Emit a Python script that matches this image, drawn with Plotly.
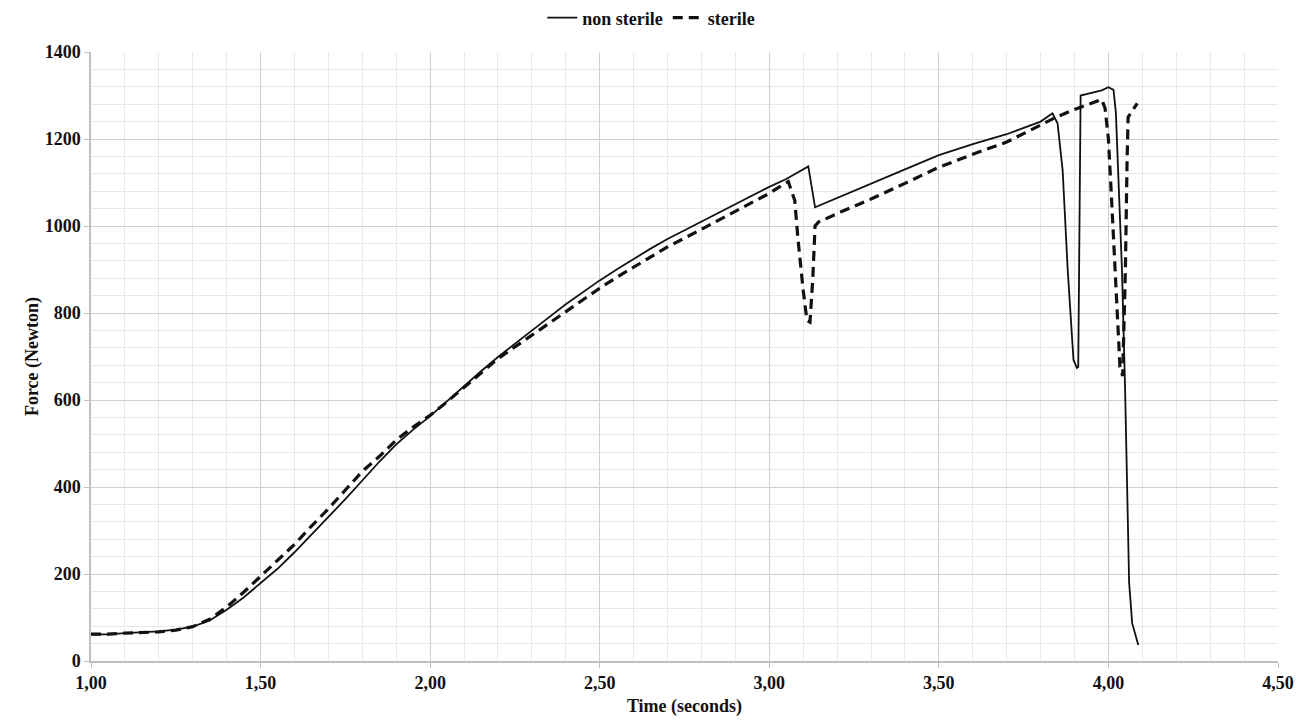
import plotly.graph_objects as go

# ---- data ----
t_non_sterile = [1.00, 1.05, 1.10, 1.15, 1.20, 1.25, 1.30, 1.35, 1.40, 1.45,
                 1.50, 1.55, 1.60, 1.65, 1.70, 1.75, 1.80, 1.85, 1.90, 1.95,
                 2.00, 2.05, 2.10, 2.15, 2.20, 2.25, 2.30, 2.35, 2.40, 2.45,
                 2.50, 2.55, 2.60, 2.65, 2.70, 2.75, 2.80, 2.85, 2.90, 2.95,
                 3.00, 3.05, 3.08, 3.115, 3.135, 3.20, 3.30, 3.40, 3.50, 3.60,
                 3.70, 3.80, 3.835, 3.85, 3.865, 3.88, 3.897, 3.907, 3.911, 3.918,
                 3.95, 3.98, 4.00, 4.015, 4.022, 4.03, 4.04, 4.049, 4.055, 4.061,
                 4.07, 4.088]
f_non_sterile = [61, 61, 64, 66, 68, 72, 79, 93, 118, 146,
                 178, 212, 250, 290, 330, 372, 415, 458, 498, 532,
                 563, 598, 632, 666, 699, 730, 760, 790, 820, 848,
                 875, 900, 925, 948, 970, 990, 1010, 1030, 1050, 1070,
                 1090, 1108, 1122, 1137, 1043, 1064, 1097, 1130, 1163, 1188,
                 1211, 1240, 1259, 1236, 1128, 898, 692, 674, 676, 1300,
                 1306, 1312, 1319, 1313, 1260, 1100, 898, 630, 410, 180,
                 87, 37]

t_sterile = [1.00, 1.05, 1.10, 1.15, 1.20, 1.25, 1.30, 1.35, 1.40, 1.45,
             1.50, 1.55, 1.60, 1.65, 1.70, 1.75, 1.80, 1.85, 1.90, 1.95,
             2.00, 2.05, 2.10, 2.15, 2.20, 2.25, 2.30, 2.35, 2.40, 2.45,
             2.50, 2.55, 2.60, 2.65, 2.70, 2.75, 2.80, 2.85, 2.90, 2.95,
             3.00, 3.03, 3.056, 3.075, 3.085, 3.10, 3.111, 3.12, 3.128, 3.135,
             3.145, 3.21, 3.30, 3.40, 3.50, 3.60, 3.70, 3.80, 3.84, 3.90,
             3.95, 3.98, 3.99, 4.00, 4.01, 4.02, 4.034, 4.042, 4.05, 4.055,
             4.058, 4.085]
f_sterile = [62, 62, 64, 66, 67, 71, 79, 96, 124, 158,
             195, 230, 268, 310, 350, 393, 436, 470, 508, 538,
             565, 596, 628, 662, 695, 722, 750, 778, 804, 830,
             857, 882, 906, 930, 952, 972, 993, 1014, 1035, 1055,
             1075, 1090, 1102, 1059, 967, 852, 783, 779, 875, 1000,
             1009, 1032, 1062, 1098, 1135, 1165, 1193, 1232, 1248, 1268,
             1282, 1291, 1271, 1200, 1050, 880, 676, 655, 900, 1150,
             1250, 1282]

x_tick_vals = [1.0, 1.5, 2.0, 2.5, 3.0, 3.5, 4.0, 4.5]
x_tick_text = ["1,00", "1,50", "2,00", "2,50", "3,00", "3,50", "4,00", "4,50"]
y_tick_vals = [0, 200, 400, 600, 800, 1000, 1200, 1400]

FONT = "Liberation Serif, Times New Roman, serif"

fig = go.Figure()
fig.add_trace(go.Scatter(x=t_non_sterile, y=f_non_sterile, mode="lines",
                         name="non sterile",
                         line=dict(color="#111111", width=1.8)))
fig.add_trace(go.Scatter(x=t_sterile, y=f_sterile, mode="lines",
                         name="sterile",
                         line=dict(color="#111111", width=3.2, dash="10px,6px")))

fig.update_layout(
    width=1311, height=720,
    margin=dict(l=83, r=41, t=44, b=67, autoexpand=False),
    paper_bgcolor="white", plot_bgcolor="white",
    font=dict(family=FONT, size=16, color="#111111", weight="bold"),
    showlegend=True,
    legend=dict(orientation="h", x=0.472, xanchor="center",
                yref="container", y=1 - 10 / 720, yanchor="middle",
                font=dict(family=FONT, size=18, weight="bold"),
                bgcolor="rgba(0,0,0,0)", itemwidth=30, tracegroupgap=0),
)
fig.update_xaxes(
    range=[1.0, 4.5], tickvals=x_tick_vals, ticktext=x_tick_text,
    automargin=False,
    showgrid=True, gridcolor="#d0d0d0", gridwidth=1,
    minor=dict(dtick=0.1, tick0=1.0, showgrid=True, gridcolor="#e8e8e8", gridwidth=1),
    showline=True, linecolor="#bfbfbf", linewidth=1.5,
    ticks="outside", ticklen=5, tickcolor="#bfbfbf",
    tickfont=dict(family=FONT, size=18, weight="bold"),
    title=dict(text="Time (seconds)", font=dict(family=FONT, size=18, weight="bold"), standoff=7),
    zeroline=False,
)
fig.update_yaxes(
    range=[0, 1400], tickvals=y_tick_vals,
    automargin=False,
    showgrid=True, gridcolor="#d0d0d0", gridwidth=1,
    minor=dict(dtick=40, tick0=0, showgrid=True, gridcolor="#e8e8e8", gridwidth=1),
    showline=True, linecolor="#bfbfbf", linewidth=1.5,
    ticks="outside", ticklen=5, tickcolor="#bfbfbf",
    tickfont=dict(family=FONT, size=18, weight="bold"),
    title=dict(text="Force (Newton)", font=dict(family=FONT, size=18, weight="bold"), standoff=1),
    zeroline=False,
)

fig.write_html("out.html")
